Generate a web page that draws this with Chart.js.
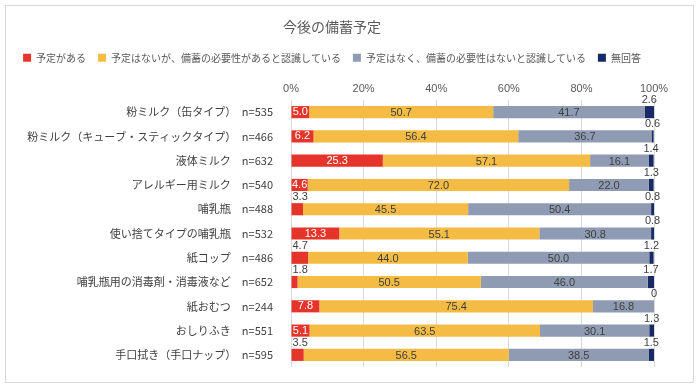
<!DOCTYPE html>
<html>
<head>
<meta charset="utf-8">
<script src="https://cdn.jsdelivr.net/npm/chart.js@4"></script>
<style>
  body { margin:0; background:#fff; }
  #wrap { position:relative; width:700px; height:389px; }
  #frame { position:absolute; left:5px; top:5px; width:687px; height:376px; border:1px solid #d9d9d9; }
  canvas { position:absolute; left:0; top:0; }
</style>
</head>
<body>
<div id="wrap">
  <div id="frame"></div>
  <canvas id="c" width="700" height="389"></canvas>
</div>
<script>
// 今後の備蓄予定 (%)
const categories = ['粉ミルク（缶タイプ）','粉ミルク（キューブ・スティックタイプ）','液体ミルク','アレルギー用ミルク','哺乳瓶','使い捨てタイプの哺乳瓶','紙コップ','哺乳瓶用の消毒剤・消毒液など','紙おむつ','おしりふき','手口拭き（手口ナップ）'];
const sampleN = [535,466,632,540,488,532,486,652,244,551,595];
const seriesNames = ['予定がある','予定はないが、備蓄の必要性があると認識している','予定はなく、備蓄の必要性はないと認識している','無回答'];
const planned   = [5.0,6.2,25.3,4.6,3.3,13.3,4.7,1.8,7.8,5.1,3.5];
const needed    = [50.7,56.4,57.1,72.0,45.5,55.1,44.0,50.5,75.4,63.5,56.5];
const notNeeded = [41.7,36.7,16.1,22.0,50.4,30.8,50.0,46.0,16.8,30.1,38.5];
const noAnswer  = [2.6,0.6,1.4,1.3,0.8,0.8,1.2,1.7,0,1.3,1.5];
const xTicks = [0,20,40,60,80,100];

const colors = ['#e5352b','#f4bc44','#8e9bb2','#172a66'];
const numFamily = '"Liberation Sans", sans-serif';
const jpFont = '"Noto Sans CJK JP", sans-serif';

// rows where the red value sits above the bar
const redAbove = [4,6,7,10];

const barLabels = {
  id:'barLabels',
  afterDatasetsDraw(chart){
    const ctx = chart.ctx;
    ctx.save();
    ctx.font = '11px ' + numFamily;
    ctx.textBaseline = 'middle';
    chart.data.datasets.forEach((ds, di) => {
      const meta = chart.getDatasetMeta(di);
      meta.data.forEach((bar, i) => {
        const v = ds.data[i];
        const txt = v === 0 ? '0' : v.toFixed(1);
        const top = bar.y - bar.height/2;
        if (di === 0) {
          if (redAbove.includes(i)) {
            ctx.fillStyle = '#404040'; ctx.textAlign = 'left';
            ctx.fillText(txt, bar.base + 1, top - 6);
          } else {
            ctx.fillStyle = '#fff'; ctx.textAlign = 'center';
            ctx.fillText(txt, (bar.x + bar.base)/2, bar.y);
          }
        } else if (di === 3) {
          ctx.fillStyle = '#404040'; ctx.textAlign = 'center';
          ctx.fillText(txt, (bar.x + bar.base)/2, top - 6);
        } else {
          ctx.fillStyle = '#404040'; ctx.textAlign = 'center';
          ctx.fillText(txt, (bar.x + bar.base)/2, bar.y + 1);
        }
      });
    });
    ctx.restore();
  }
};

new Chart(document.getElementById('c'), {
  type:'bar',
  data:{
    labels: categories.map((c, i) => c + '　n=' + sampleN[i]),
    datasets:[planned, needed, notNeeded, noAnswer].map((d, i) => ({
      label: seriesNames[i], data: d, backgroundColor: colors[i],
      barPercentage: 0.5, categoryPercentage: 1.0, borderWidth: 0
    }))
  },
  options:{
    indexAxis:'y',
    responsive:false,
    animation:false,
    layout:{ padding:{ left:10, right:46, top:10, bottom:22 } },
    plugins:{
      title:{ display:true, text:'今後の備蓄予定', color:'#595959',
        font:{ family: jpFont, size:14, weight:'normal' }, padding:{ top:8, bottom:6 } },
      legend:{ position:'top', labels:{ boxWidth:8, boxHeight:8, padding:12, color:'#595959',
        font:{ family: jpFont, size:10 } } },
      tooltip:{ enabled:false }
    },
    scales:{
      x:{ stacked:true, position:'top', min:0, max:100,
        afterBuildTicks: s => { s.ticks = xTicks.map(v => ({ value:v })); },
        afterFit: s => { s.height += 6; },
        ticks:{ callback: v => v + '%', color:'#595959', font:{ family: numFamily, size:11 }, padding:4 },
        grid:{ color:'#d9d9d9', drawTicks:false },
        border:{ display:false }
      },
      y:{ stacked:true,
        afterFit: s => { s.width = 281; },
        ticks:{ color:'#404040', font:{ family: jpFont, size:11 }, padding:10, autoSkip:false },
        grid:{ display:false },
        border:{ display:false }
      }
    }
  },
  plugins:[barLabels]
});
</script>
</body>
</html>
